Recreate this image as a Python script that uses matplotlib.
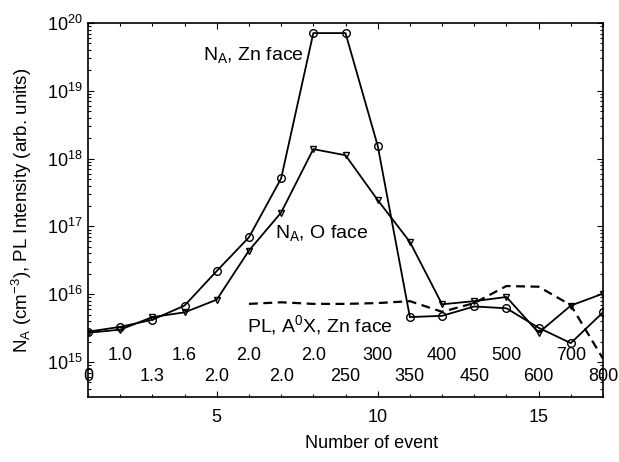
import numpy as np
import matplotlib
matplotlib.use('Agg')
import matplotlib.pyplot as plt
from matplotlib.ticker import MultipleLocator, LogLocator, NullFormatter
import matplotlib.transforms as mtransforms

plt.rcParams['font.family'] = ['Liberation Sans', 'DejaVu Sans']
plt.rcParams['mathtext.fontset'] = 'custom'
plt.rcParams['mathtext.rm'] = 'Liberation Sans'
plt.rcParams['mathtext.it'] = 'Liberation Sans'
plt.rcParams['mathtext.default'] = 'regular'

# data
event = np.arange(1, 18)
zn_face = [2.8e15, 3.3e15, 4.2e15, 6.8e15, 2.2e16, 6.9e16, 5.1e17, 7.1e19, 7.1e19,
           1.55e18, 4.6e15, 4.8e15, 6.6e15, 6.2e15, 3.2e15, 1.9e15, 5.4e15]
o_face = [2.7e15, 3.0e15, 4.6e15, 5.4e15, 8.3e15, 4.4e16, 1.6e17, 1.38e18, 1.12e18,
          2.45e17, 5.9e16, 7.1e15, 7.9e15, 9.1e15, 2.7e15, 6.8e15, 1.02e16]
pl_event = np.arange(6, 18)
pl_zn = [7.2e15, 7.6e15, 7.2e15, 7.2e15, 7.4e15, 7.9e15, 5.5e15, 7.4e15,
         1.32e16, 1.29e16, 6.9e15, 1.12e15]

# condition labels under the curves
upper_events = [2, 4, 6, 8, 10, 12, 14, 16]
upper_labels = ['1.0', '1.6', '2.0', '2.0', '300', '400', '500', '700']
lower_events = [1, 3, 5, 7, 9, 11, 13, 15, 17]
lower_labels = ['0', '1.3', '2.0', '2.0', '250', '350', '450', '600', '800']

fig = plt.figure(figsize=(6.19, 4.62), dpi=100)
ax = fig.add_axes([88/619, 1-397/462, (603-88)/619, (397-23)/462])

ax.plot(event, zn_face, color='black', lw=1.3, marker='o', ms=5.5,
        mfc='none', mec='black', mew=1.0)
ax.plot(event, o_face, color='black', lw=1.3, marker='v', ms=5,
        mfc='none', mec='black', mew=1.0)
ax.plot(pl_event, pl_zn, color='black', lw=1.6, ls=(0, (4, 2.5)))

ax.set_yscale('log')
ax.set_xlim(1, 17)
ax.set_ylim(10**14.484, 1e20)

ax.xaxis.set_major_locator(MultipleLocator(5))
ax.xaxis.set_minor_locator(MultipleLocator(1))
ax.yaxis.set_major_locator(LogLocator(base=10, numticks=10))
ax.yaxis.set_minor_locator(LogLocator(base=10, subs=np.arange(2, 10), numticks=20))
ax.yaxis.set_minor_formatter(NullFormatter())

ax.tick_params(which='both', direction='in', top=True, right=True, width=0.8)
ax.tick_params(which='major', length=4)
ax.tick_params(which='minor', length=2)
ax.tick_params(axis='x', labelsize=13, pad=9)
ax.tick_params(axis='y', labelsize=13, pad=4)
for s in ax.spines.values():
    s.set_linewidth(1.2)

# annotations
ax.text(4.57, 3.4e19, 'N$_A$, Zn face', fontsize=14, va='center', ha='left')
ax.text(6.81, 8.0e16, 'N$_A$, O face', fontsize=14, va='center', ha='left')
ax.text(5.94, 3.5e15, 'PL, A$^0$X, Zn face', fontsize=14, va='center', ha='left')

trans = mtransforms.blended_transform_factory(ax.transData, ax.transAxes)
for xe, lab in zip(upper_events, upper_labels):
    ax.text(xe, 0.110, lab, transform=trans, fontsize=13, ha='center', va='center')
for xe, lab in zip(lower_events, lower_labels):
    ax.text(xe, 0.056, lab, transform=trans, fontsize=13, ha='center', va='center',
            clip_on=False)

fig.text(372/619, 1-443/462, 'Number of event', fontsize=13, ha='center', va='center')
fig.text(22/619, 1-210/462, 'N$_A$ (cm$^{-3}$), PL Intensity (arb. units)',
         fontsize=13.5, rotation=90, ha='center', va='center')

fig.savefig('out.png', dpi=100)
